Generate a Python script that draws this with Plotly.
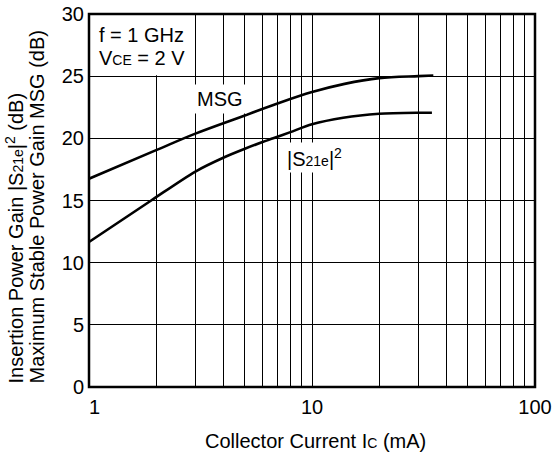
import plotly.graph_objects as go

# Data
msg_x = [1, 2, 3, 5, 7, 10, 14, 20, 30, 35]
msg_y = [16.75, 19.05, 20.38, 21.84, 22.8, 23.72, 24.38, 24.84, 25.0, 25.05]

s21_x = [1, 1.9, 3, 4, 5, 6, 6.7, 8, 10, 13.8, 20, 30, 34.5]
s21_y = [11.66, 15.0, 17.33, 18.44, 19.16, 19.7, 20.0, 20.5, 21.13, 21.66, 21.98, 22.06, 22.06]

x_tickvals = [1, 2, 3, 4, 5, 6, 7, 8, 9, 10, 20, 30, 40, 50, 60, 70, 80, 90, 100]
x_ticktext = ["&nbsp;&nbsp;1", " ", " ", " ", " ", " ", " ", " ", " ", "10",
              " ", " ", " ", " ", " ", " ", " ", " ", "100"]
y_tickvals = [0, 5, 10, 15, 20, 25, 30]

FONT = "Arial, Liberation Sans, Helvetica, sans-serif"
FS = 20

fig = go.Figure()
fig.add_trace(go.Scatter(x=msg_x, y=msg_y, mode="lines",
                         line=dict(color="black", width=2.6, shape="spline", smoothing=1.0),
                         showlegend=False, hoverinfo="skip"))
fig.add_trace(go.Scatter(x=s21_x, y=s21_y, mode="lines",
                         line=dict(color="black", width=2.6, shape="spline", smoothing=0.8),
                         showlegend=False, hoverinfo="skip"))

fig.update_layout(
    width=553, height=459,
    margin=dict(l=89, r=18, t=14, b=72, pad=0, autoexpand=False),
    paper_bgcolor="white", plot_bgcolor="white",
    font=dict(family=FONT, size=FS, color="black"),
    xaxis=dict(type="log", range=[0, 2], tickvals=x_tickvals, ticktext=x_ticktext,
               tickangle=0,
               showgrid=True, gridcolor="black", gridwidth=1,
               showline=False, zeroline=False, ticks="", automargin=False,
               tickfont=dict(size=FS), ticklabelstandoff=6),
    yaxis=dict(range=[0, 30], tickvals=y_tickvals,
               showgrid=True, gridcolor="black", gridwidth=1,
               showline=False, zeroline=False, ticks="", automargin=False,
               tickfont=dict(size=FS), ticklabelstandoff=4),
    shapes=[
        dict(type="rect", xref="paper", yref="paper", x0=0, x1=0.232,
             y0=25.08 / 30, y1=1, fillcolor="white", line=dict(width=0), layer="above"),
        dict(type="rect", xref="paper", yref="paper", x0=0, x1=1, y0=0, y1=1,
             line=dict(color="black", width=2.5), fillcolor="rgba(0,0,0,0)", layer="above"),
    ],
)

small = '<span style="font-size:14px">%s</span>'
ann = [
    dict(text="f = 1 GHz", x=0.0188, y=0.9424, xanchor="left", yanchor="middle"),
    dict(text="V" + small % "CE" + " = 2 V", x=0.0188, y=0.8808, xanchor="left", yanchor="middle"),
    dict(text="MSG", x=0.293, y=0.7725, xanchor="center", yanchor="middle",
         bgcolor="white", borderpad=3),
    dict(text="|S" + small % "21e" + "|<sup>2</sup>", x=0.5057, y=0.6155,
         xanchor="center", yanchor="middle", bgcolor="white", borderpad=2),
    dict(text="Insertion Power Gain |S" + small % "21e" + "|<sup>2</sup> (dB)",
         x=-0.1667, y=0.0046, xanchor="center", yanchor="bottom", textangle=-90),
    dict(text="Maximum Stable Power Gain MSG (dB)",
         x=-0.1173, y=0.0046, xanchor="center", yanchor="bottom", textangle=-90),
    dict(text="Collector Current I" + small % "C" + " (mA)", x=0.507, y=-0.1455,
         xanchor="center", yanchor="middle"),
]
for a in ann:
    a.update(xref="paper", yref="paper", showarrow=False,
             font=dict(family=FONT, size=FS, color="black"))
    fig.add_annotation(**a)

fig.write_html("out.html", config={"displayModeBar": False},
               post_script="document.body.style.margin='0';document.body.style.overflow='hidden';")
